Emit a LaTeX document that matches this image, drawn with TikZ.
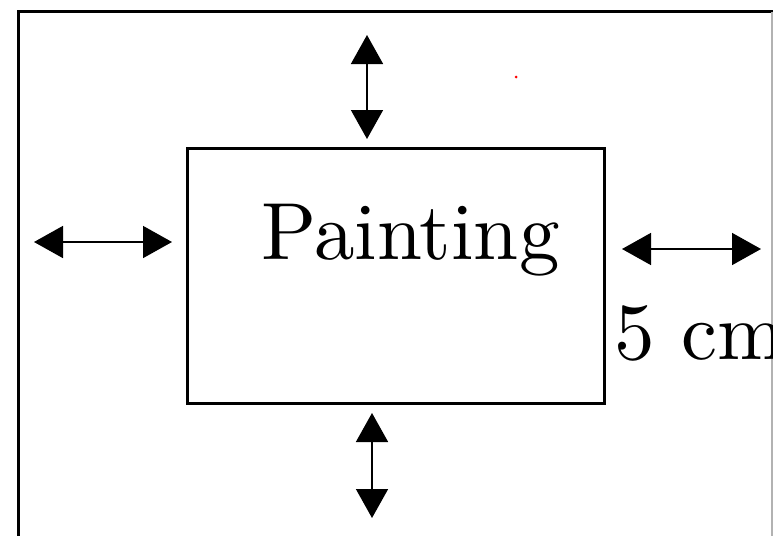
\documentclass[tikz,border=0pt]{standalone}
\usepackage{fontspec}
\newfontfamily\bigfont{lmroman10-regular.otf}
\usepackage{tikz}
\usetikzlibrary{arrows.meta}

\tikzset{
  gap/.style={{Triangle[length=29pt,width=32pt]}-{Triangle[length=29pt,width=32pt]}, line width=1.6pt},
  frame/.style={line width=3pt},
  label/.style={font=\bigfont\fontsize{81}{90}\selectfont, anchor=base west, inner sep=0pt}
}

\begin{document}
\begin{tikzpicture}[x=1pt, y=-1pt]
      \useasboundingbox (0, 0) rectangle (773, 535);

      \draw [frame] (18, 560) -- (18, 12) -- (780, 12);
      \draw [line width=1.2pt, black!30] (772, 12) -- (772, 560);

      \draw [frame] (187, 148) rectangle (604, 403);
      \node [label] (paint) at (261, 259) {Painting};
      \node [label] (size) at (614, 359) {5 cm};

      \coordinate (t1) at (367, 35);
      \coordinate (t2) at (367, 139);
      \coordinate (b1) at (372, 413);
      \coordinate (b2) at (372, 518);
      \coordinate (l1) at (34, 242);
      \coordinate (l2) at (172, 242);
      \coordinate (r1) at (622, 249);
      \coordinate (r2) at (761, 249);

      \draw [gap] (t1) -- (t2);
      \draw [gap] (b1) -- (b2);
      \draw [gap] (l1) -- (l2);
      \draw [gap] (r1) -- (r2);

      \fill [red] (516, 77) circle (1.5);
    \end{tikzpicture}
\end{document}
